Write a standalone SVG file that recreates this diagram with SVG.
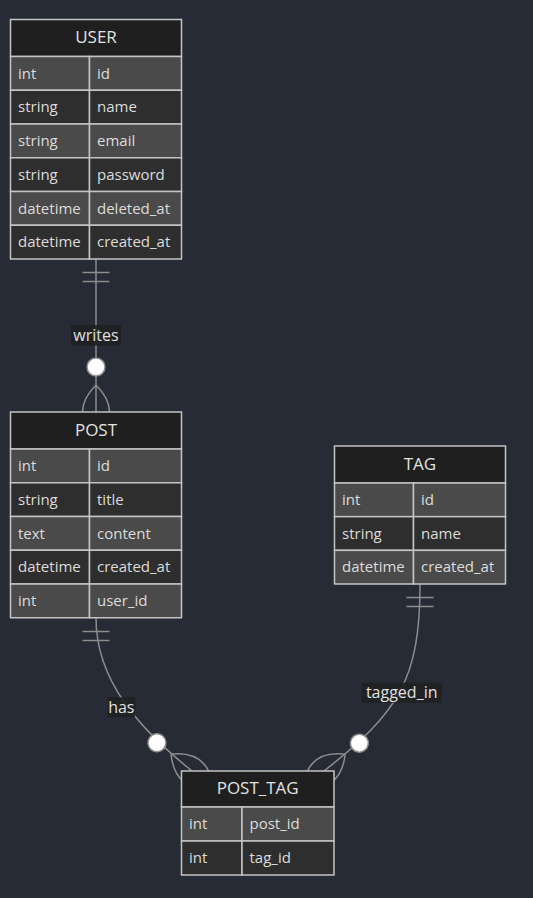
<svg xmlns="http://www.w3.org/2000/svg" width="533" height="898" viewBox="0 0 533 898">
<style>
.bg{fill:#272b36}
.hdr{fill:#1f1f1f;stroke:#c4c4c4;stroke-width:1.5}
.odd{fill:#4a4a4a;stroke:#c4c4c4;stroke-width:1.5}
.even{fill:#2e2e2e;stroke:#c4c4c4;stroke-width:1.5}
.ht{font-family:"Open Sans","DejaVu Sans",sans-serif;font-size:17px;fill:#e2e2e2;text-anchor:middle;dominant-baseline:central}
.at{font-family:"Open Sans","DejaVu Sans",sans-serif;font-size:15px;fill:#dcdcdc;dominant-baseline:central}
.ln{fill:none;stroke:#8c8c8c;stroke-width:1.5}
.mk{fill:none;stroke:#8c8c8c;stroke-width:1.5}
.cir{fill:#ffffff;stroke:#8c8c8c;stroke-width:1.5}
.lb{fill:#1f2020;opacity:0.9}
.lt{font-family:"Open Sans","DejaVu Sans",sans-serif;font-size:16px;fill:#e0e0e0;text-anchor:middle;dominant-baseline:central}
</style>
<defs>
<g id="zm"><circle class="cir" cx="-45" cy="0" r="9"/><path class="mk" d="M-27,0 Q0,-27 27,0 Q0,27 -27,0"/></g>
</defs>
<rect class="bg" x="0" y="0" width="533" height="898"/>
<g id="connectors">
  <path class="ln" d="M96,259 L96,412"/>
  <path class="mk" d="M82.5,272.5 H109.5 M82.5,281.5 H109.5"/>
  <use href="#zm" transform="translate(96,412) rotate(90)"/>
  <path class="ln" d="M96,618 C96,680 138,727.6 192,771"/>
  <path class="mk" d="M82.5,631.5 H109.5 M82.5,640.5 H109.5"/>
  <use href="#zm" transform="translate(192,771) rotate(38.8)"/>
  <path class="ln" d="M420,584 C420,680 398.6,712.2 324,771"/>
  <path class="mk" d="M406.5,597.5 H433.5 M406.5,606.5 H433.5"/>
  <use href="#zm" transform="translate(324,771) rotate(141.75)"/>
  <rect class="lb" x="71" y="325" width="50" height="20.7"/>
  <text class="lt" x="96" y="334.5">writes</text>
  <rect class="lb" x="107.7" y="697.3" width="27.3" height="20"/>
  <text class="lt" x="121.3" y="706.5">has</text>
  <rect class="lb" x="361.7" y="682.7" width="80" height="20"/>
  <text class="lt" x="401.7" y="691.9">tagged_in</text>
</g>
<g id="USER">
  <rect class="hdr" x="10.5" y="19.5" width="171" height="37"/>
  <text class="ht" x="96" y="36.5">USER</text>
  <rect class="odd" x="10.5" y="56.5" width="79" height="33.75"/><rect class="odd" x="89.5" y="56.5" width="92" height="33.75"/>
  <text class="at" x="18" y="72.6">int</text><text class="at" x="97" y="72.6">id</text>
  <rect class="even" x="10.5" y="90.25" width="79" height="33.75"/><rect class="even" x="89.5" y="90.25" width="92" height="33.75"/>
  <text class="at" x="18" y="106.3">string</text><text class="at" x="97" y="106.3">name</text>
  <rect class="odd" x="10.5" y="124" width="79" height="33.75"/><rect class="odd" x="89.5" y="124" width="92" height="33.75"/>
  <text class="at" x="18" y="140.1">string</text><text class="at" x="97" y="140.1">email</text>
  <rect class="even" x="10.5" y="157.75" width="79" height="33.75"/><rect class="even" x="89.5" y="157.75" width="92" height="33.75"/>
  <text class="at" x="18" y="173.8">string</text><text class="at" x="97" y="173.8">password</text>
  <rect class="odd" x="10.5" y="191.5" width="79" height="33.75"/><rect class="odd" x="89.5" y="191.5" width="92" height="33.75"/>
  <text class="at" x="18" y="207.6">datetime</text><text class="at" x="97" y="207.6">deleted_at</text>
  <rect class="even" x="10.5" y="225.25" width="79" height="33.75"/><rect class="even" x="89.5" y="225.25" width="92" height="33.75"/>
  <text class="at" x="18" y="241.3">datetime</text><text class="at" x="97" y="241.3">created_at</text>
</g>
<g id="POST">
  <rect class="hdr" x="10.5" y="412" width="171" height="37"/>
  <text class="ht" x="96" y="429">POST</text>
  <rect class="odd" x="10.5" y="449" width="79" height="33.75"/><rect class="odd" x="89.5" y="449" width="92" height="33.75"/>
  <text class="at" x="18" y="465.1">int</text><text class="at" x="97" y="465.1">id</text>
  <rect class="even" x="10.5" y="482.75" width="79" height="33.75"/><rect class="even" x="89.5" y="482.75" width="92" height="33.75"/>
  <text class="at" x="18" y="498.8">string</text><text class="at" x="97" y="498.8">title</text>
  <rect class="odd" x="10.5" y="516.5" width="79" height="33.75"/><rect class="odd" x="89.5" y="516.5" width="92" height="33.75"/>
  <text class="at" x="18" y="532.6">text</text><text class="at" x="97" y="532.6">content</text>
  <rect class="even" x="10.5" y="550.25" width="79" height="33.75"/><rect class="even" x="89.5" y="550.25" width="92" height="33.75"/>
  <text class="at" x="18" y="566.3">datetime</text><text class="at" x="97" y="566.3">created_at</text>
  <rect class="odd" x="10.5" y="584" width="79" height="33.75"/><rect class="odd" x="89.5" y="584" width="92" height="33.75"/>
  <text class="at" x="18" y="600.1">int</text><text class="at" x="97" y="600.1">user_id</text>
</g>
<g id="TAG">
  <rect class="hdr" x="334.5" y="446" width="171" height="37"/>
  <text class="ht" x="420" y="463">TAG</text>
  <rect class="odd" x="334.5" y="483" width="79" height="33.67"/><rect class="odd" x="413.5" y="483" width="92" height="33.67"/>
  <text class="at" x="342" y="499">int</text><text class="at" x="421" y="499">id</text>
  <rect class="even" x="334.5" y="516.67" width="79" height="33.67"/><rect class="even" x="413.5" y="516.67" width="92" height="33.67"/>
  <text class="at" x="342" y="532.7">string</text><text class="at" x="421" y="532.7">name</text>
  <rect class="odd" x="334.5" y="550.33" width="79" height="33.67"/><rect class="odd" x="413.5" y="550.33" width="92" height="33.67"/>
  <text class="at" x="342" y="566.4">datetime</text><text class="at" x="421" y="566.4">created_at</text>
</g>
<g id="POST_TAG">
  <rect class="hdr" x="181.5" y="771" width="152.5" height="36"/>
  <text class="ht" x="257.7" y="787.5">POST_TAG</text>
  <rect class="odd" x="181.5" y="807" width="60.5" height="34"/><rect class="odd" x="242" y="807" width="92" height="34"/>
  <text class="at" x="189" y="823.2">int</text><text class="at" x="249.5" y="823.2">post_id</text>
  <rect class="even" x="181.5" y="841" width="60.5" height="34"/><rect class="even" x="242" y="841" width="92" height="34"/>
  <text class="at" x="189" y="857.2">int</text><text class="at" x="249.5" y="857.2">tag_id</text>
</g>
</svg>
